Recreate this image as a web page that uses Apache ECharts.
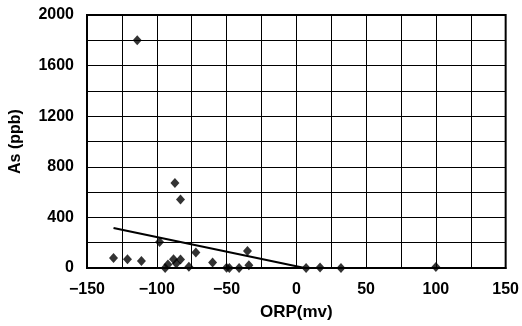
<!DOCTYPE html>
<html><head><meta charset="utf-8">
<script src="https://cdn.jsdelivr.net/npm/echarts@6/dist/echarts.min.js"></script>
<style>html,body{margin:0;padding:0;background:#fff}#c{width:522px;height:326px}</style>
</head><body><div id="c"></div>
<script>
var orpValues = [-131, -121, -111, -114, -98, -94, -92, -87, -83, -88, -86, -83, -77, -72, -60, -50, -48, -41, -35, -34, 7, 17, 32, 100];
var asValues  = [80, 69, 56, 1800, 206, 0, 27, 672, 541, 69, 35, 67, 9, 122, 43, 2, 0, 0, 135, 22, 0, 4, 0, 8];
var trendX = [-131, 6];
var trendY = [316, 0];
var xTicks = [-150, -100, -50, 0, 50, 100, 150];
var yTicks = [0, 400, 800, 1200, 1600, 2000];

var pts = orpValues.map(function(x, i){ return [x, asValues[i]]; });
var trend = trendX.map(function(x, i){ return [x, trendY[i]]; });
var font = 'Liberation Sans, Arial, sans-serif';
var chart = echarts.init(document.getElementById('c'), null, {renderer:'canvas'});
chart.setOption({
  animation:false,
  grid:{left:86, right:15, top:15, bottom:56, show:true, borderColor:'#000', borderWidth:2, backgroundColor:'#fff'},
  xAxis:{type:'value', min:-150, max:150, interval:25,
    name:'ORP(mv)', nameLocation:'middle', nameGap:36,
    nameTextStyle:{fontFamily:font, fontWeight:'bold', fontSize:17, color:'#000'},
    axisLine:{show:true, onZero:false, lineStyle:{color:'#000', width:2}}, axisTick:{show:false},
    axisLabel:{margin:14, fontFamily:font, fontWeight:'bold', fontSize:16, color:'#000',
      formatter:function(v){ return xTicks.indexOf(v) >= 0 ? String(v).replace('-', '\u2212') : ''; }},
    splitLine:{show:true, lineStyle:{color:'#000', width:1}}},
  yAxis:{type:'value', min:0, max:2000, interval:200,
    name:'As (ppb)', nameLocation:'middle', nameGap:63, nameRotate:90,
    nameTextStyle:{fontFamily:font, fontWeight:'bold', fontSize:16, color:'#000'},
    axisLine:{show:true, onZero:false, lineStyle:{color:'#000', width:2}}, axisTick:{show:false},
    axisLabel:{margin:13, fontFamily:font, fontWeight:'bold', fontSize:16, color:'#000',
      formatter:function(v){ return yTicks.indexOf(v) >= 0 ? String(v) : ''; }},
    splitLine:{show:true, lineStyle:{color:'#000', width:1}}},
  series:[
    {type:'line', data:trend, symbol:'none', lineStyle:{color:'#000', width:2}, z:3},
    {type:'scatter', data:pts, symbol:'diamond', symbolSize:[9,10], itemStyle:{color:'#000'}, z:4}
  ]
});
</script></body></html>
